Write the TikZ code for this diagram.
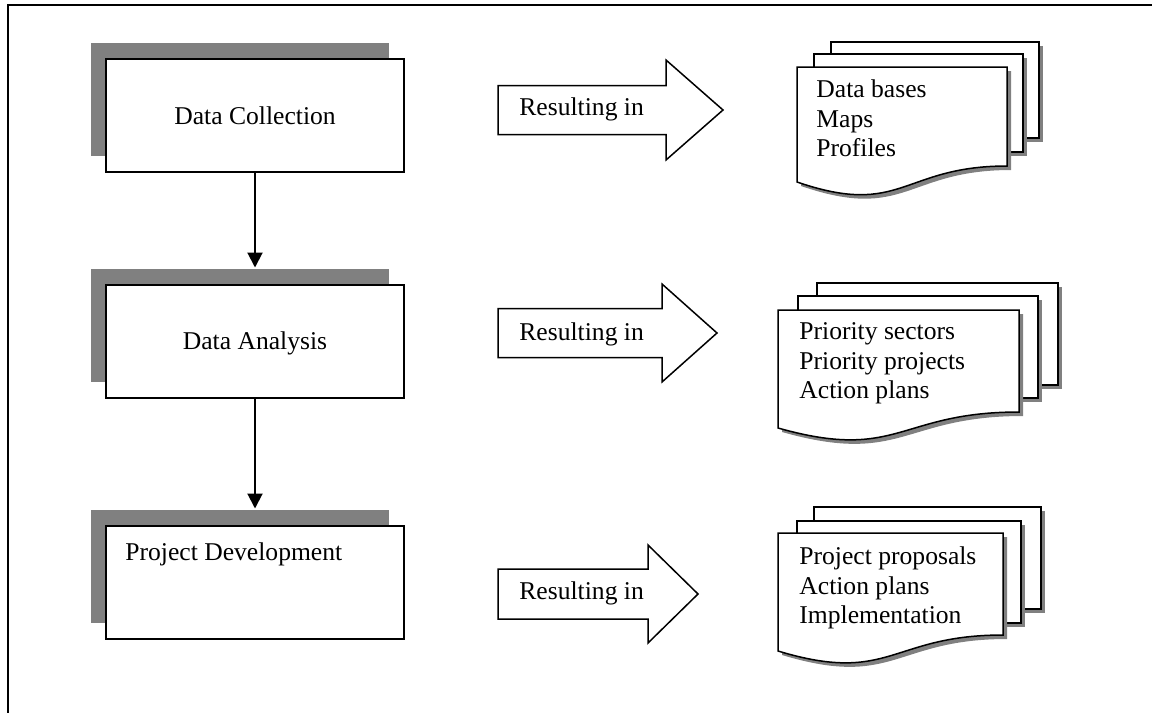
\documentclass[tikz,border=0pt]{standalone}
\usepackage{fontspec}
\setmainfont{Liberation Serif}
\usetikzlibrary{arrows.meta,shadows}
\begin{document}
\begin{tikzpicture}[x=0.5pt,y=-0.5pt,
  txt/.style={font=\fontsize{12.8}{14.7}\selectfont, inner sep=0pt},
  stepbox/.style={txt, draw, line width=1pt, fill=white, minimum width=149pt,
    minimum height=56.5pt, text depth=0pt,
    drop shadow={shadow xshift=-7.5pt, shadow yshift=8pt, fill=black!50, opacity=1}},
  conn/.style={line width=1pt, -{Triangle[width=7.5pt,length=7.5pt]}},
  blockarrow/.style={draw, fill=white, line width=0.75pt, line join=miter},
  page/.style={draw, fill=white, line width=0.75pt, line join=miter,
    drop shadow={shadow xshift=2pt, shadow yshift=-2pt, fill=black!50, opacity=1}},
  doctext/.style={txt, align=left, anchor=north west}]
\useasboundingbox (0,0) rectangle (1152,713);
% frame
\draw[line width=1pt] (1152,5) -- (7.5,5) -- (7.5,713);
% process boxes
\node[stepbox] (b1) at (255,115.5) {Data Collection};
\node[stepbox] (b2) at (255,341) {Data Analysis};
\node[stepbox] (b3) at (255,582) {};
\node[txt, anchor=base west] (t3) at (125,560) {Project Development};
\coordinate (b2top) at ([yshift=8pt]b2.north);
\coordinate (b3top) at ([yshift=8pt]b3.north);
\draw[conn] (b1.south) -- (b2top);
\draw[conn] (b2.south) -- (b3top);
% block arrows
\draw[blockarrow] (498,85.5) -- (666,85.5) -- (666,60) -- (723,110) -- (666,160) -- (666,134.5) -- (498,134.5) -- cycle;
\draw[blockarrow] (498,308.5) -- (662,308.5) -- (662,284) -- (717,333) -- (662,382) -- (662,357.5) -- (498,357.5) -- cycle;
\draw[blockarrow] (498,569) -- (648,569) -- (648,545) -- (698,594) -- (648,643) -- (648,619) -- (498,619) -- cycle;
\node[txt, anchor=base west] (r1) at (519,115) {Resulting in};
\node[txt, anchor=base west] (r2) at (519,340) {Resulting in};
\node[txt, anchor=base west] (r3) at (519,599) {Resulting in};
% document stack 1
\path[page] (831,42) rectangle (1039,138);
\path[page] (814,54) rectangle (1023,152);
\path[page] (797,67) -- (1007,67) -- (1007,166) .. controls (902,166) and (902,218) .. (797,182) -- cycle;
\node[doctext] (d1) at (816,79.5) {Data bases\\Maps\\Profiles};
% document stack 2
\path[page] (817,283) rectangle (1058,385);
\path[page] (798,296) rectangle (1038,398);
\path[page] (778,310) -- (1019,310) -- (1019,412) .. controls (898.5,412) and (898.5,462) .. (778,428) -- cycle;
\node[doctext] (d2) at (799,322.5) {Priority sectors\\Priority projects\\Action plans};
% document stack 3
\path[page] (814,507) rectangle (1041,609);
\path[page] (797,521) rectangle (1021,623);
\path[page] (778,533) -- (1003,533) -- (1003,635) .. controls (890.5,635) and (890.5,685) .. (778,651) -- cycle;
\node[doctext] (d3) at (799,546.5) {Project proposals\\Action plans\\Implementation};
\end{tikzpicture}
\end{document}
